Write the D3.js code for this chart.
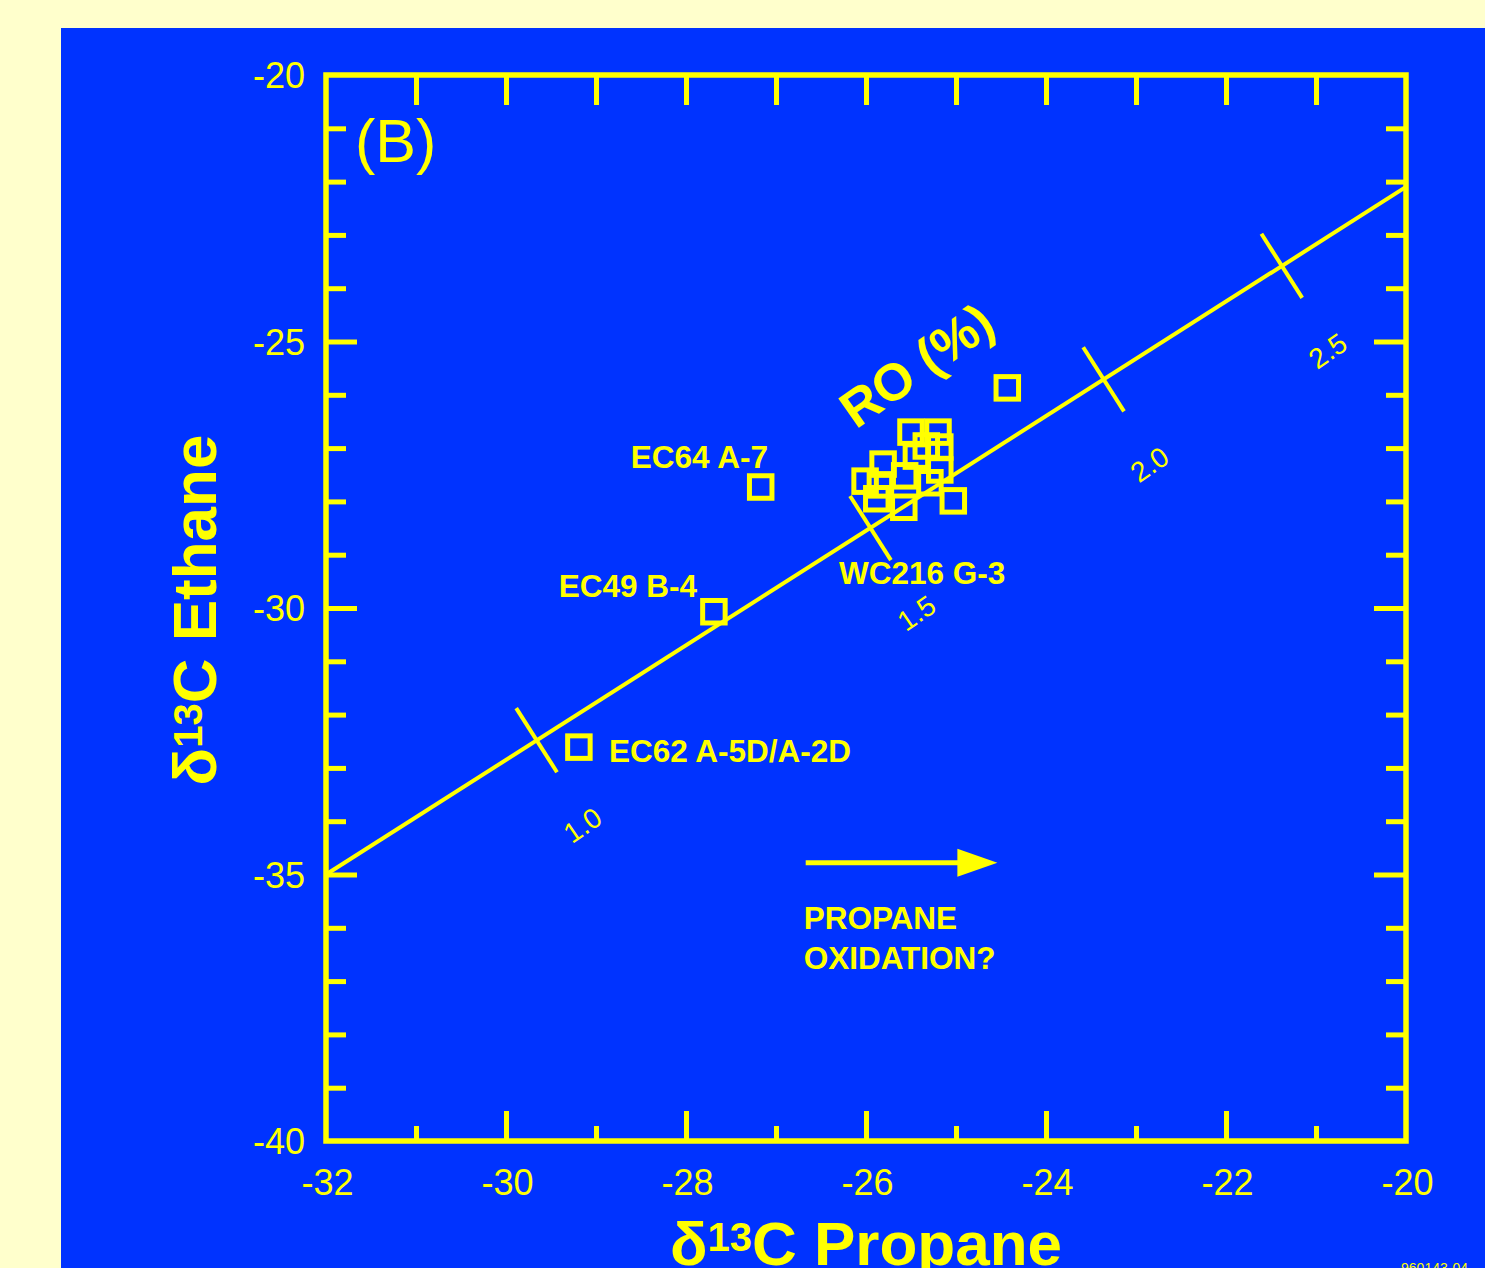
<!DOCTYPE html>
<html><head><meta charset="utf-8">
<script src="https://cdn.jsdelivr.net/npm/d3@7"></script>
<style>html,body{margin:0;padding:0;background:#FFFFCC;overflow:hidden}</style>
</head><body><svg id="chart" width="1485" height="1268"></svg>
<script>
// ---- data ----
const xTickValues = [-32, -30, -28, -26, -24, -22, -20];
const yTickValues = [-20, -25, -30, -35, -40];
const xMinorTicks = [-31, -30, -29, -28, -27, -26, -25, -24, -23, -22, -21];
const yMinorTicks = [-39,-38,-37,-36,-35,-34,-33,-32,-31,-30,-29,-28,-27,-26,-25,-24,-23,-22,-21];

const sampleX = [-29.19, -27.69, -27.17, -24.43, -25.50, -25.20, -25.33, -25.18, -25.44, -25.81, -26.01, -25.57, -25.18, -25.88, -25.58, -25.03, -25.29, -25.84];
const sampleY = [-32.61, -30.07, -27.73, -25.87, -26.70, -26.70, -26.96, -26.98, -27.15, -27.30, -27.62, -27.52, -27.41, -27.95, -28.11, -27.99, -27.65, -27.69];

const trendX = [-32, -20];
const trendY = [-35, -22.1];

const roLabels = ["1.0", "1.5", "2.0", "2.5"];
const roX = [-29.66, -25.95, -23.36, -21.38];
const roY = [-32.48, -28.50, -25.71, -23.58];

const noteText = ["EC62 A-5D/A-2D", "EC49 B-4", "EC64 A-7", "WC216 G-3"];
const noteX = [-28.856, -27.878, -27.089, -26.30];
const noteY = [-32.89, -29.79, -27.373, -29.55];
const noteAnchor = ["start", "end", "end", "start"];

const arrowX = [-26.67, -24.54];
const arrowY = -34.78;

// ---- drawing ----
const W = 1485, H = 1268;
const svg = d3.select("#chart");
const YEL = "#FFFF00", BLUE = "#0033FF";
const FONT = "'Liberation Sans', Arial, Helvetica, sans-serif";
const fmt = d => String(d);

svg.append("rect").attr("x", 0).attr("y", 0).attr("width", W).attr("height", H).attr("fill", "#FFFFCC");
svg.append("rect").attr("x", 61).attr("y", 28).attr("width", W - 61).attr("height", H - 28).attr("fill", BLUE);

const x = d3.scaleLinear().domain([-32, -20]).range([326, 1406]);
const y = d3.scaleLinear().domain([-40, -20]).range([1141, 75]);

const g = svg.append("g").attr("font-family", FONT);

// ticks (inward)
const topAx = g.append("g").attr("transform", `translate(0,${y(-20)})`)
  .call(d3.axisBottom(x).tickValues(xMinorTicks).tickSize(30).tickFormat("").tickSizeOuter(0));
const botAx = g.append("g").attr("transform", `translate(0,${y(-40)})`)
  .call(d3.axisTop(x).tickValues(xMinorTicks).tickSize(30).tickFormat("").tickSizeOuter(0));
botAx.selectAll(".tick line").attr("y2", d => (d % 2 === 0 ? -30 : -15));
const leftAx = g.append("g").attr("transform", `translate(${x(-32)},0)`)
  .call(d3.axisRight(y).tickValues(yMinorTicks).tickSize(20).tickFormat("").tickSizeOuter(0));
leftAx.selectAll(".tick line").attr("x2", d => (d % 5 === 0 ? 31 : 20));
const rightAx = g.append("g").attr("transform", `translate(${x(-20)},0)`)
  .call(d3.axisLeft(y).tickValues(yMinorTicks).tickSize(20).tickFormat("").tickSizeOuter(0));
rightAx.selectAll(".tick line").attr("x2", d => (d % 5 === 0 ? -32 : -20));

[topAx, botAx, leftAx, rightAx].forEach(a => {
  a.select(".domain").remove();
  a.selectAll(".tick line").attr("stroke", YEL).attr("stroke-width", 5);
});

// frame
g.append("rect").attr("x", x(-32)).attr("y", y(-20))
  .attr("width", x(-20) - x(-32)).attr("height", y(-40) - y(-20))
  .attr("fill", "none").attr("stroke", YEL).attr("stroke-width", 5.5);

// tick labels
const xLab = g.append("g").attr("transform", `translate(0,${y(-40)})`)
  .call(d3.axisBottom(x).tickValues(xTickValues).tickSize(0).tickPadding(0).tickFormat(fmt));
xLab.select(".domain").remove();
xLab.selectAll(".tick text").attr("fill", YEL).attr("font-size", 36).attr("font-family", FONT)
  .attr("dy", null).attr("y", 54).attr("x", 1);

const yLab = g.append("g").attr("transform", `translate(${x(-32)},0)`)
  .call(d3.axisLeft(y).tickValues(yTickValues).tickSize(0).tickPadding(21).tickFormat(fmt));
yLab.select(".domain").remove();
yLab.selectAll(".tick text").attr("fill", YEL).attr("font-size", 36).attr("font-family", FONT)
  .attr("dy", "0.36em");

// trend line
g.append("line")
  .attr("x1", x(trendX[0])).attr("y1", y(trendY[0]))
  .attr("x2", x(trendX[1])).attr("y2", y(trendY[1]))
  .attr("stroke", YEL).attr("stroke-width", 4);

// Ro cross ticks
const ang = Math.atan2(y(trendY[1]) - y(trendY[0]), x(trendX[1]) - x(trendX[0]));
const px = -Math.sin(ang), py = Math.cos(ang);
const angDeg = ang * 180 / Math.PI;
roLabels.forEach((lab, i) => {
  const cx = x(roX[i]), cy = y(roY[i]);
  g.append("line")
    .attr("x1", cx - px * 38).attr("y1", cy - py * 38)
    .attr("x2", cx + px * 38).attr("y2", cy + py * 38)
    .attr("stroke", YEL).attr("stroke-width", 4);
  g.append("text")
    .attr("transform", `translate(${cx + 46},${cy + 85}) rotate(${angDeg - 2})`)
    .attr("text-anchor", "middle").attr("dy", "0.35em")
    .attr("fill", YEL).attr("font-size", 28).text(lab);
});

// RO (%) label
g.append("text")
  .attr("transform", `translate(927,380) rotate(-35)`)
  .attr("text-anchor", "middle").attr("fill", YEL)
  .attr("font-size", 52).attr("font-weight", "bold").text("RO (%)");

// samples
const sz = 22.5;
g.selectAll("rect.sample").data(sampleX.map((v, i) => [v, sampleY[i]]))
  .enter().append("rect").attr("class", "sample")
  .attr("x", d => x(d[0]) - sz / 2).attr("y", d => y(d[1]) - sz / 2)
  .attr("width", sz).attr("height", sz)
  .attr("fill", "none").attr("stroke", YEL).attr("stroke-width", 5);

// sample notes
noteText.forEach((t, i) => {
  g.append("text").attr("x", x(noteX[i])).attr("y", y(noteY[i]))
    .attr("text-anchor", noteAnchor[i]).attr("fill", YEL)
    .attr("font-size", 31.5).attr("font-weight", "bold").text(t);
});

// (B)
g.append("text").attr("x", 355).attr("y", 162).attr("fill", YEL)
  .attr("font-size", 61).text("(B)");

// arrow
g.append("line").attr("x1", x(arrowX[0])).attr("y1", y(arrowY))
  .attr("x2", x(arrowX[1]) - 38).attr("y2", y(arrowY))
  .attr("stroke", YEL).attr("stroke-width", 5);
const tipX = x(arrowX[1]), tipY = y(arrowY);
g.append("path")
  .attr("d", `M${tipX},${tipY} L${tipX - 40},${tipY - 14} L${tipX - 40},${tipY + 14} Z`)
  .attr("fill", YEL);

g.append("text").attr("x", x(arrowX[0]) - 2).attr("y", 929).attr("fill", YEL)
  .attr("font-size", 31.5).attr("font-weight", "bold").text("PROPANE");
g.append("text").attr("x", x(arrowX[0]) - 2).attr("y", 969).attr("fill", YEL)
  .attr("font-size", 31.5).attr("font-weight", "bold").text("OXIDATION?");

// axis titles
const xt = g.append("text").attr("x", (x(-32) + x(-20)) / 2).attr("y", 1265)
  .attr("text-anchor", "middle").attr("fill", YEL).attr("font-weight", "bold").attr("font-size", 62);
xt.append("tspan").text("δ");
xt.append("tspan").attr("font-size", 40).attr("dy", -14).text("13");
xt.append("tspan").attr("dy", 14).text("C Propane");

const yt = g.append("text").attr("transform", `translate(216,${(y(-20) + y(-40)) / 2 + 2}) rotate(-90)`)
  .attr("text-anchor", "middle").attr("fill", YEL).attr("font-weight", "bold").attr("font-size", 62);
yt.append("tspan").text("δ");
yt.append("tspan").attr("font-size", 40).attr("dy", -14).text("13");
yt.append("tspan").attr("dy", 14).text("C Ethane");

// small code
g.append("text").attr("x", 1468).attr("y", 1273).attr("text-anchor", "end")
  .attr("fill", YEL).attr("font-size", 14).text("960143-04");
</script></body></html>
